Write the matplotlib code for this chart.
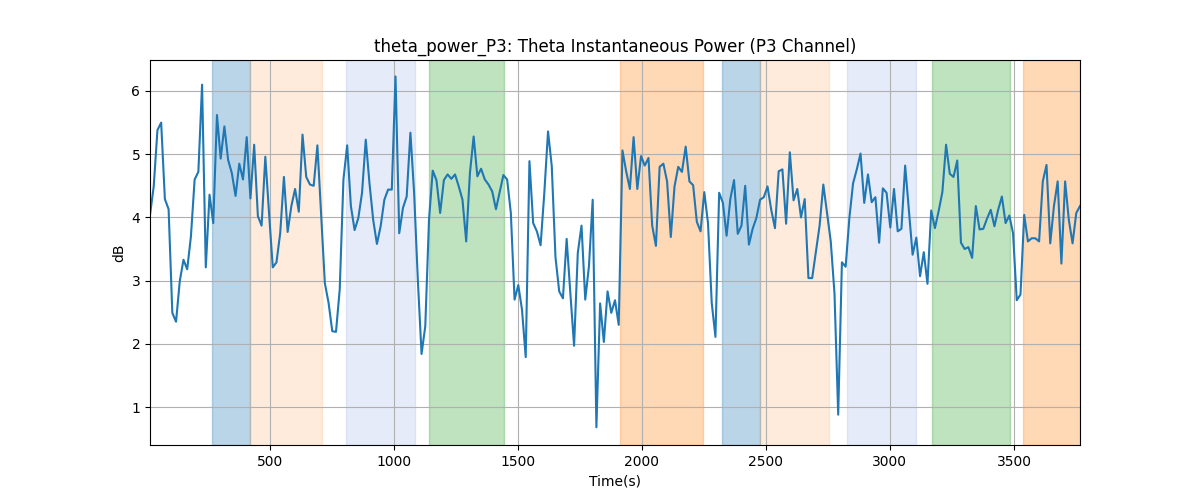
import numpy as np
import matplotlib
matplotlib.use("Agg")
import matplotlib.pyplot as plt

# -----------------------------
# Data
# -----------------------------
t_start = 18
t_end = 3766

power_db = [
    4.04, 4.49, 5.38, 5.50, 4.29, 4.13, 2.49, 2.35, 2.99, 3.33, 3.18, 3.70, 4.60, 4.72,
    6.10, 3.21, 4.36, 3.91, 5.62, 4.93, 5.44, 4.91, 4.70, 4.34, 4.85, 4.60, 5.27, 4.30,
    5.15, 4.02, 3.87, 4.96, 4.07, 3.21, 3.29, 3.75, 4.64, 3.77, 4.18, 4.45, 4.09, 5.31,
    4.64, 4.52, 4.50, 5.14, 4.05, 2.96, 2.65, 2.20, 2.19, 2.86, 4.60, 5.14, 4.18, 3.80,
    3.99, 4.39, 5.23, 4.54, 3.96, 3.58, 3.86,
    4.28, 4.44, 4.44, 6.23, 3.75, 4.15, 4.33, 5.34, 4.39, 3.01, 1.84, 2.28, 3.96, 4.74,
    4.59, 4.07, 4.59, 4.68, 4.61, 4.68, 4.49, 4.28, 3.62, 4.70, 5.28, 4.65, 4.77, 4.60,
    4.52, 4.41, 4.13, 4.40, 4.67, 4.60, 4.07, 2.70, 2.93, 2.54, 1.79, 4.89, 3.91, 3.78,
    3.56, 4.39, 5.36, 4.81, 3.37, 2.83, 2.72, 3.66, 2.80, 1.97, 3.44, 3.87, 2.70, 3.23,
    4.28, 0.68, 2.64, 2.03, 2.83,
    2.49, 2.69, 2.30, 5.06, 4.73, 4.45, 5.27, 4.45, 4.97, 4.82, 4.94, 3.87, 3.55, 4.80,
    4.85, 4.57, 3.69, 4.49, 4.80, 4.72, 5.12, 4.57, 4.51, 3.93, 3.78, 4.40, 3.91, 2.65,
    2.11, 4.39, 4.23, 3.71, 4.29, 4.59, 3.74, 3.87, 4.50, 3.57, 3.82, 3.99, 4.28, 4.32,
    4.49, 4.12, 3.83, 4.73, 4.76, 3.90, 5.03, 4.27, 4.45, 4.00, 4.29, 3.04, 3.04, 3.45,
    3.87, 4.52, 4.07, 3.62, 2.80, 0.88,
    3.29, 3.22, 3.99, 4.54, 4.76, 5.01, 4.23, 4.68, 4.24, 4.32, 3.60, 4.46, 4.39, 3.84,
    4.45, 3.78, 3.82, 4.82, 4.12, 3.41, 3.68, 3.07, 3.45, 2.95, 4.11, 3.83, 4.10, 4.40,
    5.15, 4.69, 4.64, 4.90, 3.60, 3.50, 3.53, 3.36, 4.18, 3.81, 3.82, 3.98, 4.12, 3.86,
    4.12, 4.33, 3.91, 4.03, 3.75, 2.69, 2.78, 4.04, 3.62, 3.67, 3.67, 3.62, 4.57, 4.83,
    3.59, 4.18, 4.57, 3.27, 4.57, 3.96, 3.59, 4.07, 4.18,
]

# shaded segments: (start, end, colour, alpha)
seg_start = [266, 419, 806, 1141, 1911, 2323, 2476, 2827, 3169, 3536]
seg_end = [419, 710, 1085, 1444, 2246, 2476, 2754, 3105, 3484, 3766]
light_blue = (0.4, 0.55, 0.85)
seg_color = ['tab:blue', 'tab:orange', light_blue, 'tab:green', 'tab:orange',
             'tab:blue', 'tab:orange', light_blue, 'tab:green', 'tab:orange']
seg_alpha = [0.3, 0.15, 0.17, 0.3, 0.3, 0.3, 0.15, 0.17, 0.3, 0.3]

times = np.linspace(t_start, t_end, len(power_db))

# -----------------------------
# Plot
# -----------------------------
fig, ax = plt.subplots(figsize=(12, 5), dpi=100)

for s, e, c, a in zip(seg_start, seg_end, seg_color, seg_alpha):
    ax.axvspan(s, e, color=c, alpha=a)

ax.plot(times, power_db, color='tab:blue', linewidth=1.5)

ax.set_title('theta_power_P3: Theta Instantaneous Power (P3 Channel)')
ax.set_xlabel('Time(s)')
ax.set_ylabel('dB')
ax.grid(True)
ax.set_xlim(t_start, t_end)
ax.set_ylim(0.4, 6.49)

fig.savefig('out.png')
